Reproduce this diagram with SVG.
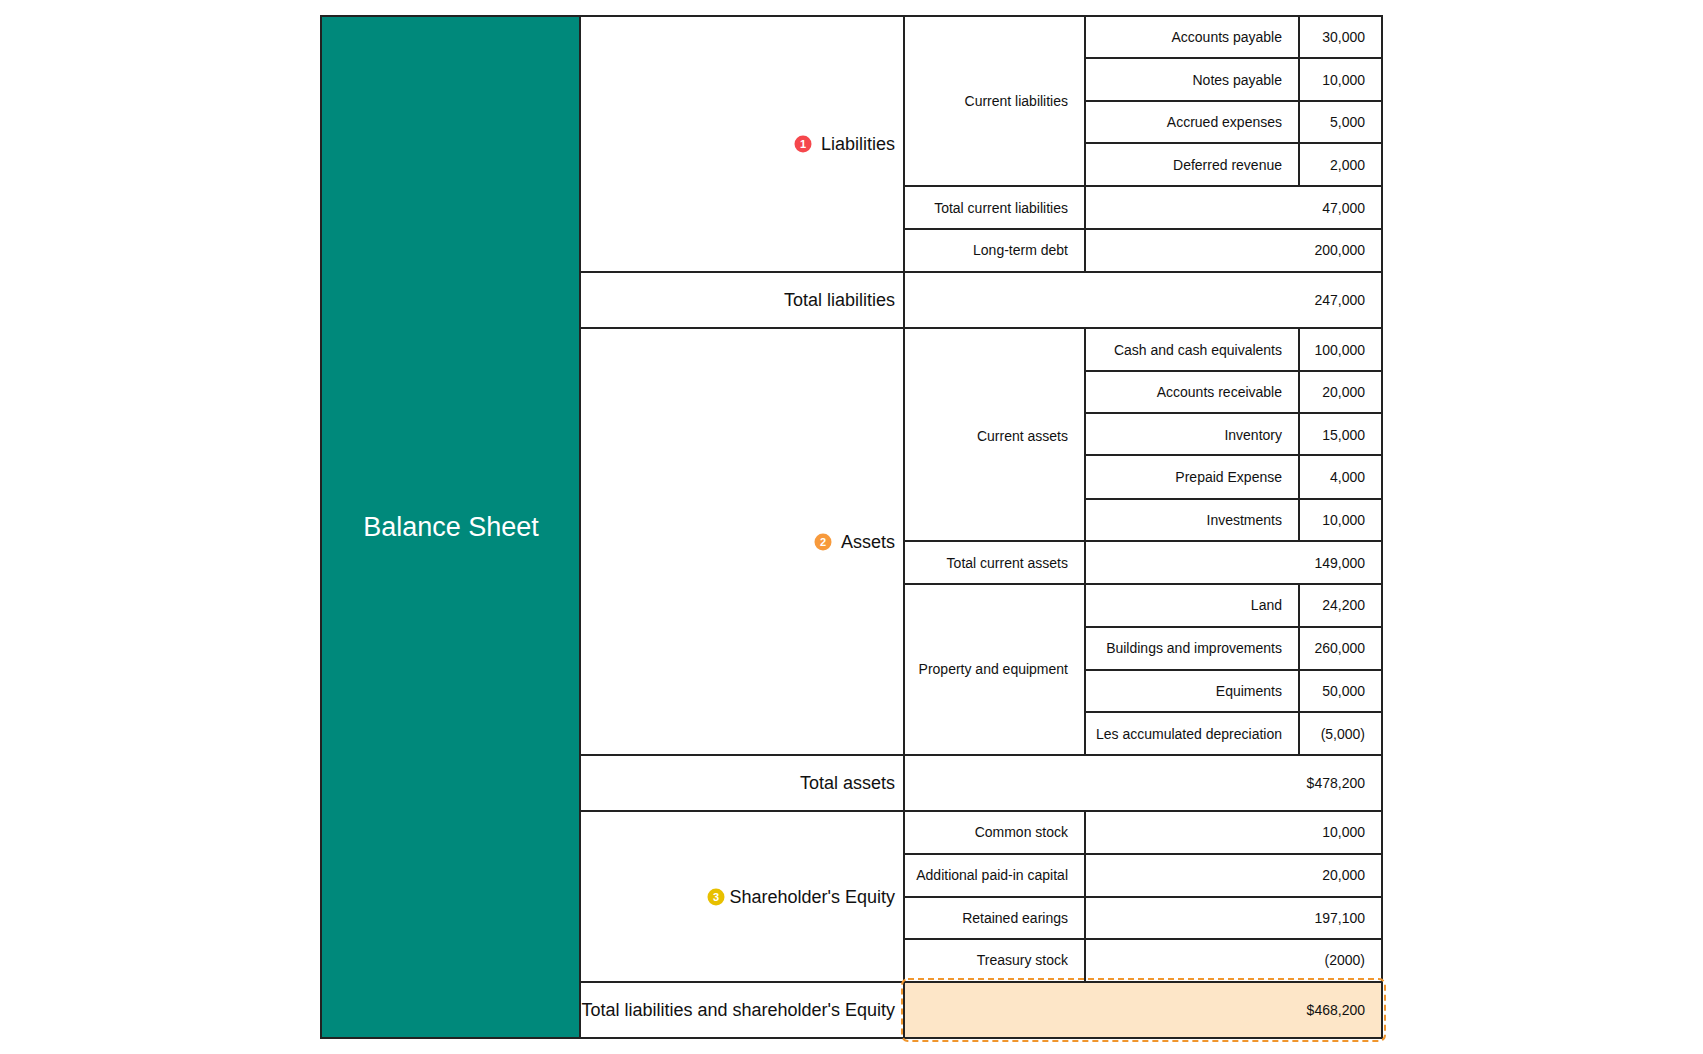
<svg xmlns="http://www.w3.org/2000/svg" width="1703" height="1054" viewBox="0 0 1703 1054">
<style>
.c{fill:#fff;stroke:#222;stroke-width:2}
text{font-family:"Liberation Sans",Arial,sans-serif;fill:#111}
.s{font-size:14px;text-anchor:end}
.m{font-size:18px;text-anchor:end}
.b{font-size:11px;font-weight:bold;fill:#fff;text-anchor:middle}
</style>
<rect width="1703" height="1054" fill="#fff"/>
<g id="title"><rect x="321" y="16" width="259" height="1022" fill="#00897b" stroke="#222" stroke-width="2"/><text x="451" y="536" font-size="27" text-anchor="middle" style="fill:#fff">Balance Sheet</text></g>
<g id="liabilities"><rect class="c" x="580" y="16" width="324" height="256"/><circle cx="803" cy="144" r="8.5" fill="#f5474c"/><text class="b" x="803" y="148">1</text><text class="m" x="895" y="150">Liabilities</text></g>
<g id="current-liabilities"><rect class="c" x="904" y="16" width="181" height="170"/><text class="s" x="1068" y="106">Current liabilities</text></g>
<g id="ap"><rect class="c" x="1085" y="16" width="214" height="42"/><text class="s" x="1282" y="42">Accounts payable</text><rect class="c" x="1299" y="16" width="83" height="42"/><text class="s" x="1365" y="42">30,000</text></g>
<g id="np"><rect class="c" x="1085" y="58" width="214" height="43"/><text class="s" x="1282" y="85">Notes payable</text><rect class="c" x="1299" y="58" width="83" height="43"/><text class="s" x="1365" y="85">10,000</text></g>
<g id="ae"><rect class="c" x="1085" y="101" width="214" height="42"/><text class="s" x="1282" y="127">Accrued expenses</text><rect class="c" x="1299" y="101" width="83" height="42"/><text class="s" x="1365" y="127">5,000</text></g>
<g id="dr"><rect class="c" x="1085" y="143" width="214" height="43"/><text class="s" x="1282" y="170">Deferred revenue</text><rect class="c" x="1299" y="143" width="83" height="43"/><text class="s" x="1365" y="170">2,000</text></g>
<g id="tcl"><rect class="c" x="904" y="186" width="181" height="43"/><text class="s" x="1068" y="213">Total current liabilities</text><rect class="c" x="1085" y="186" width="297" height="43"/><text class="s" x="1365" y="213">47,000</text></g>
<g id="ltd"><rect class="c" x="904" y="229" width="181" height="43"/><text class="s" x="1068" y="255">Long-term debt</text><rect class="c" x="1085" y="229" width="297" height="43"/><text class="s" x="1365" y="255">200,000</text></g>
<g id="tl"><rect class="c" x="580" y="272" width="324" height="56"/><text class="m" x="895" y="306">Total liabilities</text><rect class="c" x="904" y="272" width="478" height="56"/><text class="s" x="1365" y="305">247,000</text></g>
<g id="assets"><rect class="c" x="580" y="328" width="324" height="427"/><circle cx="823" cy="542" r="8.5" fill="#f79a3c"/><text class="b" x="823" y="546">2</text><text class="m" x="895" y="548">Assets</text></g>
<g id="current-assets"><rect class="c" x="904" y="328" width="181" height="213"/><text class="s" x="1068" y="441">Current assets</text></g>
<g id="cash"><rect class="c" x="1085" y="328" width="214" height="43"/><text class="s" x="1282" y="355">Cash and cash equivalents</text><rect class="c" x="1299" y="328" width="83" height="43"/><text class="s" x="1365" y="355">100,000</text></g>
<g id="ar"><rect class="c" x="1085" y="371" width="214" height="42"/><text class="s" x="1282" y="397">Accounts receivable</text><rect class="c" x="1299" y="371" width="83" height="42"/><text class="s" x="1365" y="397">20,000</text></g>
<g id="inv"><rect class="c" x="1085" y="413" width="214" height="42"/><text class="s" x="1282" y="440">Inventory</text><rect class="c" x="1299" y="413" width="83" height="42"/><text class="s" x="1365" y="440">15,000</text></g>
<g id="pe"><rect class="c" x="1085" y="455" width="214" height="44"/><text class="s" x="1282" y="482">Prepaid Expense</text><rect class="c" x="1299" y="455" width="83" height="44"/><text class="s" x="1365" y="482">4,000</text></g>
<g id="invest"><rect class="c" x="1085" y="499" width="214" height="42"/><text class="s" x="1282" y="525">Investments</text><rect class="c" x="1299" y="499" width="83" height="42"/><text class="s" x="1365" y="525">10,000</text></g>
<g id="tca"><rect class="c" x="904" y="541" width="181" height="43"/><text class="s" x="1068" y="568">Total current assets</text><rect class="c" x="1085" y="541" width="297" height="43"/><text class="s" x="1365" y="568">149,000</text></g>
<g id="ppe"><rect class="c" x="904" y="584" width="181" height="171"/><text class="s" x="1068" y="674">Property and equipment</text></g>
<g id="land"><rect class="c" x="1085" y="584" width="214" height="43"/><text class="s" x="1282" y="610">Land</text><rect class="c" x="1299" y="584" width="83" height="43"/><text class="s" x="1365" y="610">24,200</text></g>
<g id="bld"><rect class="c" x="1085" y="627" width="214" height="43"/><text class="s" x="1282" y="653">Buildings and improvements</text><rect class="c" x="1299" y="627" width="83" height="43"/><text class="s" x="1365" y="653">260,000</text></g>
<g id="eq"><rect class="c" x="1085" y="670" width="214" height="42"/><text class="s" x="1282" y="696">Equiments</text><rect class="c" x="1299" y="670" width="83" height="42"/><text class="s" x="1365" y="696">50,000</text></g>
<g id="dep"><rect class="c" x="1085" y="712" width="214" height="43"/><text class="s" x="1282" y="739">Les accumulated depreciation</text><rect class="c" x="1299" y="712" width="83" height="43"/><text class="s" x="1365" y="739">(5,000)</text></g>
<g id="ta"><rect class="c" x="580" y="755" width="324" height="56"/><text class="m" x="895" y="789">Total assets</text><rect class="c" x="904" y="755" width="478" height="56"/><text class="s" x="1365" y="788">$478,200</text></g>
<g id="equity"><rect class="c" x="580" y="811" width="324" height="171"/><circle cx="716" cy="897" r="8.5" fill="#e8c000"/><text class="b" x="716" y="901">3</text><text class="m" x="895" y="903">Shareholder's Equity</text></g>
<g id="cs"><rect class="c" x="904" y="811" width="181" height="43"/><text class="s" x="1068" y="837">Common stock</text><rect class="c" x="1085" y="811" width="297" height="43"/><text class="s" x="1365" y="837">10,000</text></g>
<g id="apic"><rect class="c" x="904" y="854" width="181" height="43"/><text class="s" x="1068" y="880">Additional paid-in capital</text><rect class="c" x="1085" y="854" width="297" height="43"/><text class="s" x="1365" y="880">20,000</text></g>
<g id="re"><rect class="c" x="904" y="897" width="181" height="42"/><text class="s" x="1068" y="923">Retained earings</text><rect class="c" x="1085" y="897" width="297" height="42"/><text class="s" x="1365" y="923">197,100</text></g>
<g id="ts"><rect class="c" x="904" y="939" width="181" height="43"/><text class="s" x="1068" y="965">Treasury stock</text><rect class="c" x="1085" y="939" width="297" height="43"/><text class="s" x="1365" y="965">(2000)</text></g>
<g id="tlse"><rect class="c" x="580" y="982" width="324" height="56"/><text class="m" x="895" y="1016">Total liabilities and shareholder's Equity</text><rect x="904" y="982" width="478" height="56" fill="#fde6c8" stroke="#222" stroke-width="2"/><rect x="902" y="979" width="483" height="62" rx="6" fill="none" stroke="#f0962e" stroke-width="2" stroke-dasharray="6 4"/><text class="s" x="1365" y="1015">$468,200</text></g>
<g id="connectors"/>
</svg>
